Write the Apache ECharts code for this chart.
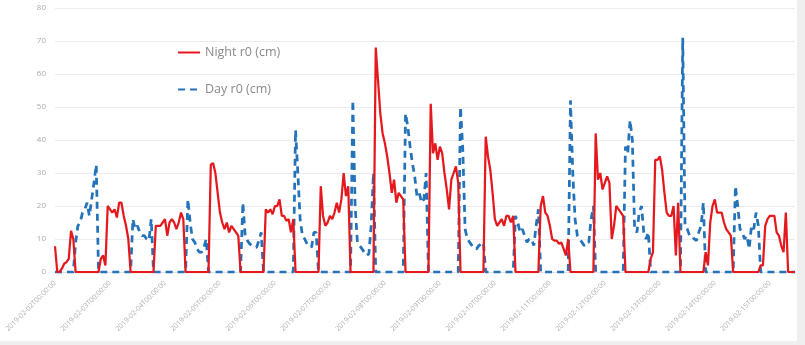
<!DOCTYPE html>
<html>
<head>
<meta charset="utf-8">
<script src="https://cdn.jsdelivr.net/npm/echarts@6/dist/echarts.min.js"></script>
<style>
  html, body { margin: 0; padding: 0; background: #efefef; }
  #card { position: absolute; left: 0; top: 0; width: 797px; height: 341px; background: #ffffff; }
  #chart { position: absolute; left: 0; top: 0; width: 805px; height: 345px; }
</style>
</head>
<body>
<div id="card"></div>
<div id="chart"></div>
<script>
// Day tick labels (one per 24 hourly points)
const dayLabels = [
  '2019-02-02', '2019-02-03', '2019-02-04', '2019-02-05', '2019-02-06', '2019-02-07', '2019-02-08',
  '2019-02-09', '2019-02-10', '2019-02-11', '2019-02-12', '2019-02-13', '2019-02-14', '2019-02-15'
];

// Night r0 (cm), hourly, one line per day
const nightR0 = [
  7.8,0,0,1,2.5,3,4,12.5,10,0,0,0,0,0,0,0,0,0,0,0,4,5,2,20,
  19,18,19,16.5,21,21,17,14,10,0,0,0,0,0,0,0,0,0,0,0,14,14,14,15,
  16,11,15,16,15,13,15,18,16,0,0,0,0,0,0,0,0,0,0,0,32.5,33,30,24,
  18,15,13,15,12,14,13,12,11,0,0,0,0,0,0,0,0,0,0,0,19,18,19,17.5,
  20,20,22,17,17,15.5,16,12,16,0,0,0,0,0,0,0,0,0,0,0,26,17,14,15,
  17,16,18,21,18,22,30,23,26,0,0,0,0,0,0,0,0,0,0,0,68,58,48,42,
  39,35,30,24,28,21,24,23,22,0,0,0,0,0,0,0,0,0,0,0,51,36,39,34,
  38,36,30,25,19,28,30,32,27,0,0,0,0,0,0,0,0,0,0,0,41,35,31,24,
  16,14,15,16,14,17,17,15,17,0,0,0,0,0,0,0,0,0,0,0,20,23,18,17,
  14,10,9.5,9.5,8.5,9,7,5,10,0,0,0,0,0,0,0,0,0,0,0,42,28,30,25,
  27,29,27,10,14,20,19,18,17,0,0,0,0,0,0,0,0,0,0,0,4,6,34,34,
  35,31,24,18,17,17,20,5,21,0,0,0,0,0,0,0,0,0,0,0,6,2,15,20,
  22,18,18,18,15,13,12,11,0,0,0,0,0,0,0,0,0,0,0,0,2,2,14,16,
  17,17,17,12,11,8,6,18,0,0,0,0
];

// Day r0 (cm), hourly, one line per day
const dayR0 = [
  0,0,0,0,0,0,0,0,0,9,14,15,18,19,21,17,22,27,32.5,0,0,0,0,0,
  0,0,0,0,0,0,0,0,0,0,16,13,14,12,11,11,10,9.5,16,0,0,0,0,0,
  0,0,0,0,0,0,0,0,0,0,22,15,10,9,7,6,6,7.5,10,0,0,0,0,0,
  0,0,0,0,0,0,0,0,0,0,21,11,9.5,8.5,8,7.5,7.5,9.5,12,0,0,0,0,0,
  0,0,0,0,0,0,0,0,0,43,30,16,11,10,8.5,8,7.5,12,12,0,0,0,0,0,
  0,0,0,0,0,0,0,0,0,0,52,20,9,8,7,6,5,5.5,14,30,0,0,0,0,
  0,0,0,0,0,0,0,0,0,48,44,38,33,29,23,24,21,22,30,0,0,0,0,0,
  0,0,0,0,0,0,0,0,0,50,37,13,10,9,8,7,7,8,8.5,9,0,0,0,0,
  0,0,0,0,0,0,0,0,0,17,15,12,13,11,9,10,10,8,14,19,0,0,0,0,
  0,0,0,0,0,0,0,0,0,52,30,16,11,10,9,8,9,9,16,20,0,0,0,0,
  0,0,0,0,0,0,0,0,0,38,36,46,40,13,12,18,20,12,10,12,0,0,0,0,
  0,0,0,0,0,0,0,0,0,0,71,14,13,11,11,10,9.5,12,14,21,0,0,0,0,
  0,0,0,0,0,0,0,0,0,26,20,13,12,10,11,7,14,13,18,14,0,0,0,0,
  0,0,0,0,0,0,0,0,0,0,0,0
];

const seriesNames = ['Night r0 (cm)', 'Day r0 (cm)'];

// hourly category strings
const categories = nightR0.map(function (_, i) {
  const d = dayLabels[Math.floor(i / 24)];
  const h = String(i % 24).padStart(2, '0');
  return d + 'T' + h + ':00:00';
});

const FONT = '"Open Sans", "Noto Sans", sans-serif';
const RED = '#e5191d';
const BLUE = '#2473ba';
const chart = echarts.init(document.getElementById('chart'), null, { renderer: 'canvas' });
chart.setOption({
  animation: false,
  backgroundColor: 'transparent',
  grid: { left: 55, right: 10, top: 8, bottom: 73 },
  legend: {
    orient: 'vertical',
    left: 172,
    top: 41,
    itemGap: 24,
    itemWidth: 22,
    itemHeight: 14,
    data: seriesNames,
    itemStyle: { opacity: 0 },
    textStyle: { fontFamily: FONT, fontSize: 12.5, color: '#8a8a8a' }
  },
  xAxis: {
    type: 'category',
    data: categories,
    boundaryGap: false,
    axisLine: { show: true, lineStyle: { color: '#e2e2e2' } },
    axisTick: { show: false },
    axisLabel: {
      interval: 23,
      rotate: 45,
      margin: 10,
      fontSize: 7,
      fontFamily: FONT,
      color: '#b0b0b0'
    },
    splitLine: { show: false }
  },
  yAxis: {
    type: 'value',
    min: 0,
    max: 80,
    interval: 10,
    axisLine: { show: false },
    axisTick: { show: false },
    axisLabel: { fontSize: 8, fontFamily: FONT, color: '#ababab', margin: 9 },
    splitLine: { lineStyle: { color: '#ececec', width: 1 } }
  },
  series: [
    {
      name: seriesNames[1],
      type: 'line',
      data: dayR0,
      symbol: 'none',
      z: 2,
      lineStyle: { color: BLUE, width: 2.75, type: [7, 5] },
      itemStyle: { color: BLUE }
    },
    {
      name: seriesNames[0],
      type: 'line',
      data: nightR0,
      symbol: 'none',
      z: 3,
      lineStyle: { color: RED, width: 2.25 },
      itemStyle: { color: RED }
    }
  ]
});
</script>
</body>
</html>
